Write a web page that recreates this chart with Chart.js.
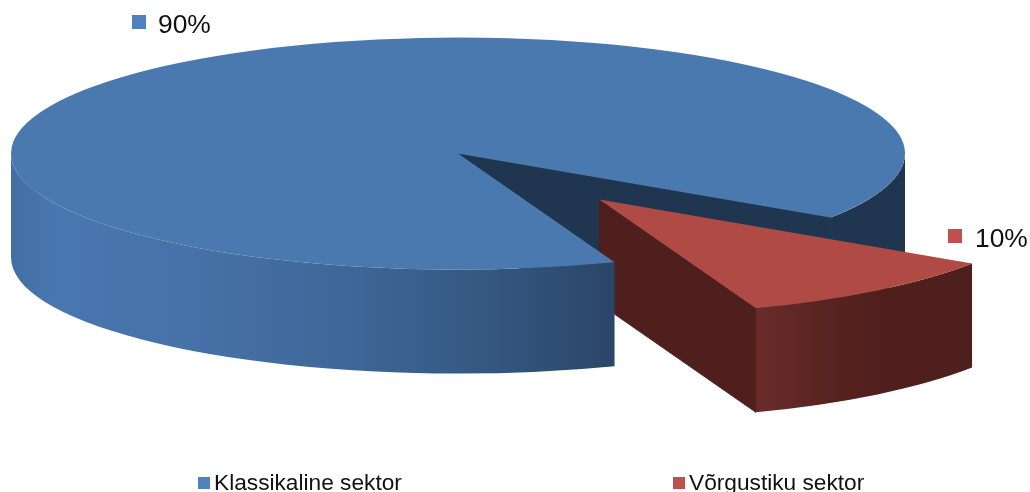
<!DOCTYPE html>
<html>
<head>
<meta charset="utf-8">
<script src="https://cdn.jsdelivr.net/npm/chart.js@4/dist/chart.umd.min.js"></script>
<style>
    html, body { margin: 0; padding: 0; background: #fff; overflow: hidden; }
    canvas { display: block; }
</style>
</head>
<body>
<canvas id="pieChart" width="1030" height="492"></canvas>
<script>
const categories = ['Klassikaline sektor', 'Võrgustiku sektor'];
const shares = [90, 10];
const explode = [0, 227];

const topColors = ['#4A79B0', '#B04A45'];
const markerColors = ['#4F81BD', '#C0504D'];

// pie centre, flattening and wall height on screen
const centerX = 458;
const centerY = 153.5;
const radius = 447;
const flatten = 0.2595;
const depth = 104;
const fontName = '"Liberation Sans", Arial, sans-serif';

// walls are plain ellipse bands, angles come from the arc elements
function rimWall(ctx, cx, cy, a0, a1, fill) {
    const ry = radius * flatten;
    ctx.beginPath();
    ctx.ellipse(cx, cy, radius, ry, 0, a0, a1);
    ctx.ellipse(cx, cy + depth, radius, ry, 0, a1, a0, true);
    ctx.closePath();
    ctx.fillStyle = fill;
    ctx.fill();
}

function cutFace(ctx, cx, cy, angle, fill) {
    const rx = cx + Math.cos(angle) * radius;
    const ry = cy + Math.sin(angle) * radius * flatten;
    ctx.beginPath();
    ctx.moveTo(cx, cy);
    ctx.lineTo(rx, ry);
    ctx.lineTo(rx, ry + depth);
    ctx.lineTo(cx, cy + depth);
    ctx.closePath();
    ctx.fillStyle = fill;
    ctx.fill();
    // hides the hairline where face and wall meet
    ctx.strokeStyle = fill;
    ctx.lineWidth = 1;
    ctx.stroke();
}

function drawTop(ctx, arc, cx, cy) {
    ctx.save();
    ctx.translate(cx, cy);
    ctx.scale(1, flatten);
    ctx.translate(-arc.x, -arc.y);
    arc.draw(ctx);
    ctx.restore();
}

function hGradient(ctx, x0, x1, stops) {
    const g = ctx.createLinearGradient(x0, 0, x1, 0);
    stops.forEach(s => g.addColorStop(s[0], s[1]));
    return g;
}

const pie3d = {
    id: 'pie3d',
    beforeDatasetsDraw(chart) {
        const ctx = chart.ctx;
        const arcs = chart.getDatasetMeta(0).data;
        const blue = arcs[0];
        const red = arcs[1];
        const blueEnd = blue.endAngle % (Math.PI * 2);

        // back parts of the big slice
        rimWall(ctx, centerX, centerY, 0, blueEnd, '#1F3550');
        cutFace(ctx, centerX, centerY, blueEnd, '#1F3550');

        // pulled out slice
        const mid = (red.startAngle + red.endAngle) / 2;
        const redX = centerX + Math.cos(mid) * explode[1];
        const redY = centerY + Math.sin(mid) * explode[1] * flatten;
        rimWall(ctx, redX, redY, red.startAngle, red.endAngle, hGradient(ctx, 750, 975, [
            [0, '#6C2D2A'], [0.35, '#582320'], [0.6, '#4F1F1D'], [1, '#4F1F1D']
        ]));
        cutFace(ctx, redX, redY, red.endAngle, '#4F1F1D');
        drawTop(ctx, red, redX, redY);

        // front wall of the big slice, then its top
        rimWall(ctx, centerX, centerY, blue.startAngle, Math.PI, hGradient(ctx, 11, 610, [
            [0, '#426FA3'], [0.07, '#4876AE'], [0.3, '#4672A9'], [0.55, '#3F6899'],
            [0.8, '#345780'], [1, '#2B4668']
        ]));
        drawTop(ctx, blue, centerX, centerY);
        return false;
    },
    afterDraw(chart) {
        const ctx = chart.ctx;
        const total = shares.reduce((a, b) => a + b, 0);
        const labelPos = [[132, 15, 158, 33], [948, 229, 975, 247]];
        const legendPos = [[198, 477, 214, 490], [673, 477, 689, 490]];

        ctx.save();
        ctx.textBaseline = 'alphabetic';
        ctx.textAlign = 'left';
        shares.forEach((v, i) => {
            const p = labelPos[i];
            ctx.fillStyle = markerColors[i];
            ctx.fillRect(p[0], p[1], 14, 14);
            ctx.fillStyle = '#111';
            ctx.font = '26.4px ' + fontName;
            ctx.fillText(Math.round(v / total * 100) + '%', p[2], p[3]);
        });
        categories.forEach((name, i) => {
            const p = legendPos[i];
            ctx.fillStyle = markerColors[i];
            ctx.fillRect(p[0], p[1], 12, 12);
            ctx.fillStyle = '#111';
            ctx.font = '22.7px ' + fontName;
            ctx.fillText(name, p[2], p[3]);
        });
        ctx.restore();
    }
};

new Chart(document.getElementById('pieChart').getContext('2d'), {
    type: 'pie',
    data: {
        labels: categories,
        datasets: [{
            data: shares,
            backgroundColor: topColors,
            borderWidth: 0,
            radius: radius
        }]
    },
    options: {
        responsive: false,
        animation: false,
        rotation: 159.5,
        plugins: {
            legend: { display: false },
            tooltip: { enabled: false }
        }
    },
    plugins: [pie3d]
});
</script>
</body>
</html>
